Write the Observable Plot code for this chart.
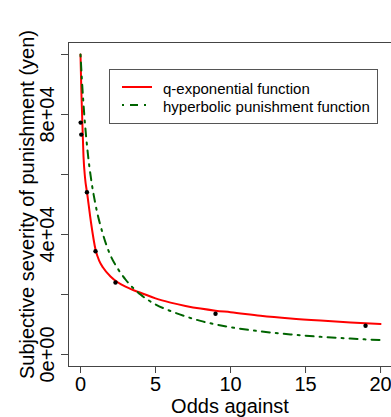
<!DOCTYPE html>
<html>
<head>
<meta charset="utf-8">
<script src="https://cdn.jsdelivr.net/npm/d3@7"></script>
<script src="https://cdn.jsdelivr.net/npm/@observablehq/plot@0.6"></script>
<style>
  html, body { margin: 0; padding: 0; background: white; }
</style>
</head>
<body>
<div id="chart"></div>
<script>
// Observed points
const oddsObs = [0.0101, 0.0526, 0.4286, 1, 2.333, 9, 19];
const severityObs = [77300, 73300, 54100, 34400, 24000, 13600, 9600];

// q-exponential function
const qX = [0, 0.05, 0.1, 0.2, 0.3, 0.45, 0.7, 1, 1.25, 1.5, 2, 2.5, 3, 3.5, 4, 5, 6, 7, 8, 9, 10, 12, 14, 16, 18, 20];
const qY = [100000, 89000, 81000, 66000, 59000, 53500, 44000, 35000, 31200, 29000, 26000, 24000, 22600, 21500, 20600, 18700, 17300, 16200, 15300, 14600, 14100, 12900, 12000, 11300, 10700, 10200];

// hyperbolic punishment function
const hX = [0, 0.1, 0.25, 0.5, 0.75, 1, 1.5, 2, 2.5, 3, 4, 5, 6, 7, 8, 10, 12, 14, 16, 18, 20];
const hY = [100000, 91000, 80000, 66500, 57000, 50000, 40000, 33000, 28500, 25000, 20000, 16700, 14500, 12700, 11200, 9100, 7700, 6700, 5900, 5300, 4800];

// Axes
const xTicks = [0, 5, 10, 15, 20];
const yTicks = [0, 20000, 40000, 60000, 80000, 100000];
const yLabelTicks = [0, 40000, 80000];
const yTickLabels = ["0e+00", "4e+04", "8e+04"];
const xTitle = "Odds against";
const yTitle = "Subjective severity of punishment (yen)";
const seriesNames = ["q-exponential function", "hyperbolic punishment function"];
const seriesColors = ["#ff0000", "#006400"];

const qData = qX.map((x, i) => ({x, y: qY[i]}));
const hData = hX.map((x, i) => ({x, y: hY[i]}));
const obsData = oddsObs.map((x, i) => ({x, y: severityObs[i]}));

const font = "'Liberation Sans', Arial, sans-serif";

const chart = Plot.plot({
  width: 391,
  height: 417,
  marginLeft: 68,
  marginTop: 42,
  marginBottom: 51,
  marginRight: 0,
  style: {fontFamily: font, fontSize: "20px", background: "white", color: "black", overflow: "visible"},
  x: {domain: [-0.8, 20.73]},
  y: {domain: [-4000, 104000]},
  marks: [
    Plot.axisX({ticks: xTicks, tickSize: 7, tickPadding: 3, fontSize: 20, label: null, stroke: "#444"}),
    Plot.axisY({ticks: yTicks, tickSize: 7, tickFormat: () => "", label: null, stroke: "#444"}),
    Plot.axisY({ticks: yLabelTicks, tickSize: 0, tickRotate: -90, tickPadding: 15, fontSize: 20,
                tickFormat: d => yTickLabels[yLabelTicks.indexOf(d)], label: null}),
    Plot.text([xTitle], {frameAnchor: "bottom", dy: 46.5, lineAnchor: "bottom", textAnchor: "middle", fontSize: 20, text: d => d}),
    Plot.text([yTitle], {frameAnchor: "left", rotate: -90, dx: -35, lineAnchor: "bottom", textAnchor: "middle", fontSize: 20, text: d => d}),
    Plot.line(qData, {x: "x", y: "y", stroke: seriesColors[0], strokeWidth: 2, curve: "monotone-x"}),
    Plot.line(hData, {x: "x", y: "y", stroke: seriesColors[1], strokeWidth: 2, strokeDasharray: "2,6,8,6", curve: "monotone-x"}),
    Plot.dot(obsData, {x: "x", y: "y", r: 2.2, fill: "black", stroke: null}),
    Plot.frame({stroke: "#444"})
  ]
});

// Legend inside the plot
const svg = d3.select(chart);
const lg = svg.append("g").attr("font-family", font).attr("font-size", 15).attr("text-anchor", "start");
lg.append("rect").attr("x", 109.5).attr("y", 69.5).attr("width", 268).attr("height", 54)
  .attr("fill", "white").attr("stroke", "#555");
const rowsY = [87, 105];
seriesNames.forEach((name, i) => {
  lg.append("line").attr("x1", 122).attr("x2", 152).attr("y1", rowsY[i]).attr("y2", rowsY[i])
    .attr("stroke", seriesColors[i]).attr("stroke-width", 2)
    .attr("stroke-dasharray", i === 1 ? "2,6,8,6" : null);
  lg.append("text").attr("x", 163).attr("y", rowsY[i] + 6.5).attr("fill", "black")
    .attr("text-anchor", "start").text(name);
});

document.getElementById("chart").appendChild(chart);
</script>
</body>
</html>
